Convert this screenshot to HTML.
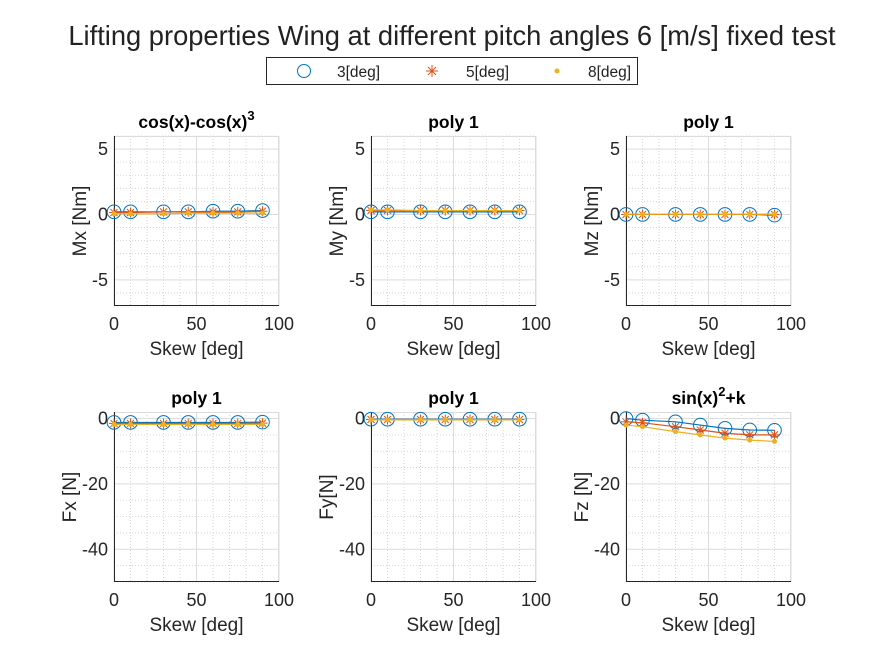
<!DOCTYPE html>
<html><head><meta charset="utf-8"><style>
body{margin:0;background:#fff;}
svg{display:block;font-family:"Liberation Sans",sans-serif;}
</style></head><body>
<svg id="fig" width="875" height="656" viewBox="0 0 875 656">
<rect width="875" height="656" fill="#fff"/>
<text x="452" y="45" font-size="27.3" text-anchor="middle" fill="#222">Lifting properties Wing at different pitch angles 6 [m/s] fixed test</text>
<g>
<rect x="266.5" y="57.5" width="371" height="27" fill="#fff" stroke="#262626"/>
<circle cx="304" cy="71" r="6.5" fill="none" stroke="#0072bd"/>
<text x="337" y="77" font-size="15.5" fill="#222">3[deg]</text>
<g stroke="#d95319" stroke-width="1"><line x1="426" y1="71" x2="438" y2="71"/><line x1="432" y1="65" x2="432" y2="77"/><line x1="428" y1="67" x2="436" y2="75"/><line x1="436" y1="67" x2="428" y2="75"/></g>
<text x="466" y="77" font-size="15.5" fill="#222">5[deg]</text>
<circle cx="557" cy="71" r="2.5" fill="#edb120"/>
<text x="588" y="77" font-size="15.5" fill="#222">8[deg]</text>
</g>
<g id="plots"></g>
</svg>
<script>
const skew=[0,10,30,45,60,75,90];
const mx3=[0.2,0.2,0.2,0.2,0.25,0.25,0.3];
const mx5=[0.15,0.15,0.2,0.2,0.2,0.2,0.25];
const mx8=[0.05,0.05,0.05,0.1,0.1,0.1,0.1];
const my3=[0.2,0.2,0.2,0.2,0.2,0.2,0.2];
const my5=[0.3,0.3,0.3,0.3,0.3,0.3,0.3];
const my8=[0.35,0.35,0.3,0.3,0.3,0.3,0.3];
const mz3=[0,0,0,0,0,0,-0.05];
const mz5=[0,0,0,0,0,0,0];
const mz8=[0.02,0.02,0.02,0.02,0.02,0.02,0.02];
const fx3=[-1.2,-1.2,-1.2,-1.2,-1.2,-1.2,-1.1];
const fx5=[-1.5,-1.5,-1.5,-1.5,-1.5,-1.5,-1.4];
const fx8=[-1.8,-1.8,-1.8,-1.8,-1.8,-1.8,-1.8];
const fy3=[-0.2,-0.2,-0.2,-0.2,-0.2,-0.2,-0.2];
const fy5=[-0.3,-0.3,-0.3,-0.3,-0.3,-0.3,-0.3];
const fy8=[-0.4,-0.4,-0.4,-0.4,-0.4,-0.4,-0.4];
const fz3=[0,-0.5,-1,-2,-3,-3.5,-3.6];
const fz5=[-1,-1.3,-2.5,-3.5,-4.5,-5,-5];
const fz8=[-2,-2.5,-4,-5,-6,-6.6,-7];
const xTicks=[0,50,100];
const topTicks=[-5,0,5];
const botTicks=[-40,-20,0];
const cols=[114,371,626];
const plots=[
 {c:0,r:0,title:'cos(x)-cos(x)',sup:'3',yl:'Mx [Nm]',d:[mx3,mx5,mx8],name:'mx'},
 {c:1,r:0,title:'poly 1',yl:'My [Nm]',d:[my3,my5,my8],name:'my'},
 {c:2,r:0,title:'poly 1',yl:'Mz [Nm]',d:[mz3,mz5,mz8],name:'mz'},
 {c:0,r:1,title:'poly 1',yl:'Fx [N]',d:[fx3,fx5,fx8],name:'fx'},
 {c:1,r:1,title:'poly 1',yl:'Fy[N]',d:[fy3,fy5,fy8],name:'fy'},
 {c:2,r:1,title:'sin(x)',sup:'2',post:'+k',yl:'Fz [N]',d:[fz3,fz5,fz8],name:'fz'}];
const colors=['#0072bd','#d95319','#edb120'];
const NS='http://www.w3.org/2000/svg';
const root=document.getElementById('plots');
function mk(p,tag,at){const e=document.createElementNS(NS,tag);for(const k in at)e.setAttribute(k,at[k]);p.appendChild(e);return e;}
plots.forEach(P=>{
 const L=cols[P.c],R=L+165,T=P.r?412:136,B=P.r?582:306;
 const y0=P.r?-50:-7,y1=P.r?2:6;
 const xs=v=>L+v/100*(R-L);
 const ys=v=>B-(v-y0)/(y1-y0)*(B-T);
 const g=mk(root,'g',{});
 
 
 const minorY=P.r?5:1;
 for(let v=10;v<100;v+=10){if(v%50)mk(g,'line',{x1:xs(v),x2:xs(v),y1:T,y2:B,stroke:'#ccc','stroke-dasharray':'1,2','stroke-width':0.8});}
 for(let v=Math.ceil(y0/minorY)*minorY;v<=y1;v+=minorY){const major=P.r?v%20===0:v%5===0;if(!major)mk(g,'line',{x1:L,x2:R,y1:ys(v),y2:ys(v),stroke:'#ccc','stroke-dasharray':'1,2','stroke-width':0.8});}
 xTicks.forEach(v=>{mk(g,'line',{x1:xs(v),x2:xs(v),y1:T,y2:B,stroke:'#dcdcdc'});
  const t=mk(g,'text',{x:xs(v),y:B+24,'font-size':18,'text-anchor':'middle',fill:'#262626'});t.textContent=v;});
 (P.r?botTicks:topTicks).forEach(v=>{mk(g,'line',{x1:L,x2:R,y1:ys(v),y2:ys(v),stroke:'#dcdcdc'});
  const t=mk(g,'text',{x:L-6,y:ys(v)+6,'font-size':18,'text-anchor':'end',fill:'#262626'});t.textContent=v;});
 mk(g,'line',{x1:L,x2:R,y1:T+0.5,y2:T+0.5,stroke:'#dcdcdc'});
 mk(g,'line',{x1:R-0.5,x2:R-0.5,y1:T,y2:B,stroke:'#dcdcdc'});
 mk(g,'line',{x1:L+0.5,x2:L+0.5,y1:T,y2:B,stroke:'#262626'});
 mk(g,'line',{x1:L,x2:R,y1:B-0.5,y2:B-0.5,stroke:'#262626'});
 const tt=mk(g,'text',{x:(L+R)/2,y:T-8,'font-size':17.5,'font-weight':'bold','text-anchor':'middle',fill:'#000'});
 
 
 tt.appendChild(document.createTextNode(P.title));
 if(P.sup){const s=mk(tt,'tspan',{dy:-8,'font-size':13});s.textContent=P.sup;}
 if(P.post){const s=mk(tt,'tspan',{dy:8});s.textContent=P.post;}
 const xl=mk(g,'text',{x:(L+R)/2,y:B+49,'font-size':19,'text-anchor':'middle',fill:'#262626'});xl.textContent='Skew [deg]';
 
 
 const yOff=P.r?38:28;
 const yl=mk(g,'text',{x:0,y:0,'font-size':19,'text-anchor':'middle',fill:'#262626',transform:`translate(${L-yOff},${(T+B)/2}) rotate(-90)`});yl.textContent=P.yl;
 
 
 P.d.forEach((arr,si)=>{
  const col=colors[si];
  mk(g,'polyline',{points:arr.map((v,i)=>xs(skew[i])+','+ys(v)).join(' '),fill:'none',stroke:col,'stroke-width':1.2});
  arr.forEach((v,i)=>{const x=xs(skew[i]),y=ys(v);
   if(si===0){const c=mk(g,'circle',{cx:x,cy:y,r:6.8,fill:'none',stroke:col,'stroke-width':1});}
   else if(si===1){const s=mk(g,'g',{stroke:col,'stroke-width':1});
     mk(s,'line',{x1:x-5,x2:x+5,y1:y,y2:y});mk(s,'line',{x1:x,x2:x,y1:y-5,y2:y+5});mk(s,'line',{x1:x-3.5,x2:x+3.5,y1:y-3.5,y2:y+3.5});mk(s,'line',{x1:x+3.5,x2:x-3.5,y1:y-3.5,y2:y+3.5});}
   else{const c=mk(g,'circle',{cx:x,cy:y,r:2.5,fill:col});}
  });
 });
});
</script>
</body></html>
